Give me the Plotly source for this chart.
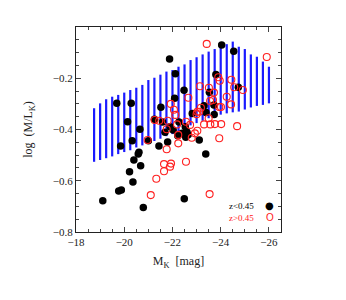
import plotly.graph_objects as go

# ---- data ----
band_mk = [-18.75, -19.0, -19.25, -19.5, -19.75, -20.0, -20.25, -20.5, -20.75, -21.0,
           -21.25, -21.5, -21.75, -22.0, -22.25, -22.5, -22.75, -23.0, -23.25, -23.5,
           -23.75, -24.0, -24.25, -24.5, -24.75, -25.0, -25.25, -25.5, -25.75, -26.0]
band_upper = [-0.317, -0.298, -0.282, -0.272, -0.265, -0.256, -0.246, -0.237, -0.226, -0.207,
              -0.198, -0.186, -0.174, -0.168, -0.155, -0.146, -0.129, -0.118, -0.107, -0.096,
              -0.086, -0.077, -0.067, -0.057, -0.077, -0.086, -0.107, -0.116, -0.135, -0.155]
band_lower = [-0.526, -0.519, -0.512, -0.505, -0.496, -0.488, -0.481, -0.470, -0.462, -0.452,
              -0.445, -0.436, -0.426, -0.418, -0.408, -0.395, -0.384, -0.375, -0.366, -0.356,
              -0.348, -0.342, -0.337, -0.333, -0.330, -0.322, -0.314, -0.308, -0.304, -0.298]

low_z_mk = [-21.88, -24.04, -24.54, -22.12, -23.80, -24.73, -22.48, -23.53, -22.09, -19.69,
            -20.29, -21.52, -23.31, -23.72, -23.39, -22.82, -23.73, -20.14, -20.65, -21.25,
            -21.59, -21.69, -21.90, -22.03, -22.27, -22.53, -22.60, -22.65, -22.55, -22.40,
            -20.33, -19.85, -21.00, -21.44, -21.80, -22.22, -23.11, -20.61, -20.58, -20.40,
            -20.68, -23.38, -20.22, -20.36, -19.77, -19.88, -19.11, -20.79, -22.49]
low_z_ml = [-0.125, -0.070, -0.095, -0.182, -0.185, -0.235, -0.247, -0.255, -0.278, -0.298,
            -0.298, -0.313, -0.307, -0.304, -0.334, -0.338, -0.341, -0.370, -0.399, -0.360,
            -0.371, -0.411, -0.389, -0.402, -0.371, -0.389, -0.410, -0.420, -0.430, -0.415,
            -0.444, -0.464, -0.444, -0.464, -0.449, -0.424, -0.441, -0.489, -0.496, -0.519,
            -0.541, -0.496, -0.565, -0.605, -0.640, -0.636, -0.678, -0.704, -0.670]

high_z_mk = [-23.42, -25.91, -23.90, -23.96, -24.44, -24.56, -24.92, -23.14, -23.51, -23.72,
             -24.25, -22.66, -23.56, -23.68, -24.43, -23.94, -24.01, -23.18, -23.03, -21.93,
             -22.06, -22.12, -21.26, -21.45, -21.80, -22.19, -22.56, -22.73, -23.00, -23.11,
             -23.50, -23.31, -23.57, -23.76, -24.02, -24.68, -23.94, -21.76, -23.03, -22.93,
             -22.80, -22.24, -22.24, -20.97, -21.76, -21.65, -21.94, -21.90, -21.65, -22.56,
             -21.33, -21.10, -23.54]
high_z_ml = [-0.066, -0.117, -0.196, -0.210, -0.206, -0.235, -0.246, -0.231, -0.237, -0.256,
             -0.272, -0.276, -0.289, -0.285, -0.302, -0.312, -0.312, -0.315, -0.331, -0.300,
             -0.323, -0.343, -0.363, -0.366, -0.366, -0.380, -0.370, -0.382, -0.340, -0.331,
             -0.356, -0.380, -0.380, -0.379, -0.379, -0.387, -0.434, -0.399, -0.405, -0.415,
             -0.432, -0.421, -0.454, -0.441, -0.477, -0.535, -0.533, -0.545, -0.563, -0.526,
             -0.592, -0.656, -0.652]

x_ticks = [-18, -20, -22, -24, -26]
x_tick_labels = ["\u221218", "\u221220", "\u221222", "\u221224", "\u221226"]
y_ticks = [-0.8, -0.6, -0.4, -0.2]
y_tick_labels = ["\u22120.8", "\u22120.6", "\u22120.4", "\u22120.2"]

# ---- build band as segmented lines ----
bx, by = [], []
for m, lo, hi in zip(band_mk, band_lower, band_upper):
    bx += [m, m, None]
    by += [lo, hi, None]

serif = "Liberation Serif, Times New Roman, serif"

fig = go.Figure()
fig.add_trace(go.Scatter(x=bx, y=by, mode="lines",
                         line=dict(color="#1a1aff", width=2.2),
                         hoverinfo="skip", showlegend=False))
fig.add_trace(go.Scatter(x=low_z_mk, y=low_z_ml, mode="markers",
                         marker=dict(color="black", size=7.5, line=dict(width=0)),
                         showlegend=False))
fig.add_trace(go.Scatter(x=high_z_mk, y=high_z_ml, mode="markers",
                         marker=dict(symbol="circle-open", color="#ff2020", size=7,
                                     line=dict(width=1.1, color="#ff2020")),
                         showlegend=False))

axis_common = dict(showline=True, linecolor="#222", linewidth=1.2, mirror="allticks",
                   ticks="inside", ticklen=5, tickwidth=1, tickcolor="#444",
                   showgrid=False, zeroline=False, automargin=False,
                   tickfont=dict(family=serif, size=11, color="#222"))

fig.update_xaxes(range=[-18, -26.5], tickvals=x_ticks, ticktext=x_tick_labels,
                 minor=dict(ticks="inside", ticklen=3, dtick=0.5, tickcolor="#444", showgrid=False),
                 title=dict(text="M<sub>K</sub>  [mag]", font=dict(family=serif, size=12, color="#222"),
                            standoff=9),
                 **axis_common)
fig.update_yaxes(range=[-0.8, 0.0], tickvals=y_ticks, ticktext=y_tick_labels,
                 minor=dict(ticks="inside", ticklen=3, dtick=0.05, tickcolor="#444", showgrid=False),
                 title=dict(text="log  (M/L<sub>K</sub>)", font=dict(family=serif, size=12, color="#222"),
                            standoff=17),
                 **axis_common)

# legend texts and glyphs
fig.add_annotation(xref="paper", yref="paper", x=0.88, y=0.125, xanchor="right", yanchor="middle",
                   text="z&lt;0.45", showarrow=False,
                   font=dict(family=serif, size=9, color="black"))
fig.add_annotation(xref="paper", yref="paper", x=0.946, y=0.127, xanchor="center", yanchor="middle",
                   text="\u25cf", showarrow=False,
                   font=dict(family="DejaVu Sans", size=10, color="black"))
fig.add_annotation(xref="paper", yref="paper", x=0.88, y=0.070, xanchor="right", yanchor="middle",
                   text="z&gt;0.45", showarrow=False,
                   font=dict(family=serif, size=9, color="#ff2020"))
fig.add_annotation(xref="paper", yref="paper", x=0.946, y=0.072, xanchor="center", yanchor="middle",
                   text="O", showarrow=False,
                   font=dict(family="Liberation Sans", size=10, color="#ff2020"))

fig.update_layout(width=346, height=300,
                  margin=dict(l=68, r=73, t=19, b=76),
                  plot_bgcolor="white", paper_bgcolor="white",
                  showlegend=False)

fig.write_html("out.html")
